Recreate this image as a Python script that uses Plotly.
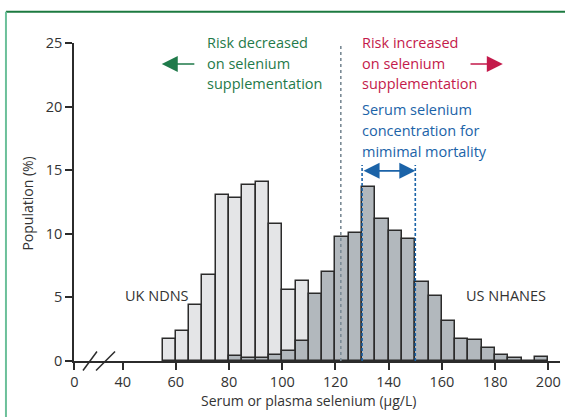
import plotly.graph_objects as go

# ---- data ----
bin_width = 5
uk_bin_starts = [55, 60, 65, 70, 75, 80, 85, 90, 95, 100, 105]
uk_values = [1.75, 2.33, 4.37, 6.78, 13.03, 12.83, 13.82, 14.06, 10.78, 5.57, 6.3]

us_bin_starts = [80, 85, 90, 95, 100, 105, 110, 115, 120, 125, 130, 135, 140, 145,
                 150, 155, 160, 165, 170, 175, 180, 185, 190, 195]
us_values = [0.42, 0.23, 0.25, 0.5, 0.78, 1.6, 5.26, 6.98, 9.76, 10.1, 13.66, 11.18, 10.23, 9.6,
             6.23, 5.1, 3.11, 1.75, 1.64, 1.01, 0.49, 0.26, 0.0, 0.34]

y_ticks = [0, 5, 10, 15, 20, 25]
x_tick_labels = ["0", "40", "60", "80", "100", "120", "140", "160", "180", "200"]
x_tick_values = [21.8, 40, 60, 80, 100, 120, 140, 160, 180, 200]  # "0" sits at the axis break

risk_threshold = 122
minimal_mortality_range = [130, 150]

FONT = "Open Sans"
GREEN = "#1f7a4a"
RED = "#c41a4b"
BLUE = "#1b63a8"
DARK = "#2b2b2b"
TXT = "#333333"
Y_MAX = 25

uk_centers = [s + bin_width / 2 for s in uk_bin_starts]
us_centers = [s + bin_width / 2 for s in us_bin_starts]

fig = go.Figure()
fig.add_trace(go.Bar(x=uk_centers, y=uk_values, width=bin_width,
                     marker=dict(color="#e4e5e7", line=dict(color=DARK, width=1.5)),
                     name="UK NDNS", showlegend=False))
fig.add_trace(go.Bar(x=us_centers, y=us_values, width=bin_width,
                     marker=dict(color="#b2b8bd", line=dict(color=DARK, width=1.5)),
                     name="US NHANES", showlegend=False))

shapes = []
shapes.append(dict(type="line", xref="x", yref="y", x0=risk_threshold, x1=risk_threshold,
                   y0=0, y1=25.2, line=dict(color="#7b8b96", width=1.6, dash="3px,3px")))
for v in minimal_mortality_range:
    shapes.append(dict(type="line", xref="x", yref="y", x0=v, x1=v, y0=0, y1=15.4,
                       line=dict(color=BLUE, width=1.6, dash="3px,2px")))
# axis break marks
for (a, b) in [(0.0185, 0.0473), (0.0453, 0.0844)]:
    shapes.append(dict(type="line", xref="paper", yref="paper", x0=a, x1=b, y0=-0.03, y1=0.03,
                       line=dict(color=DARK, width=1.5)))
# frame lines (top and left)
shapes.append(dict(type="line", xref="paper", yref="paper", x0=-0.14, x1=1.02, y0=1.098, y1=1.098,
                   line=dict(color="#1c7a40", width=2)))
shapes.append(dict(type="line", xref="paper", yref="paper", x0=-0.14, x1=-0.14, y0=1.098, y1=-0.2,
                   line=dict(color="#6cc09a", width=2)))

ann = []
def txt(x, y, s, color, size=14.5):
    ann.append(dict(x=x, y=y / Y_MAX, xref="x", yref="paper", text=s, showarrow=False,
                    xanchor="left", yanchor="middle",
                    font=dict(family=FONT, size=size, color=color)))

for i, s in enumerate(["Risk decreased", "on selenium", "supplementation"]):
    txt(71.1, 25.02 - i * 1.61, s, GREEN)
for i, s in enumerate(["Risk increased", "on selenium", "supplementation"]):
    txt(129.2, 25.02 - i * 1.61, s, RED)
for i, s in enumerate(["Serum selenium", "concentration for", "mimimal mortality"]):
    txt(129.2, 19.76 - i * 1.65, s, BLUE)
txt(40.1, 5.17, "UK NDNS", TXT)
txt(168.3, 5.17, "US NHANES", TXT)

# arrows
ann.append(dict(x=54.7, y=23.35, ax=67.5, ay=23.35, xref="x", yref="y", axref="x", ayref="y",
                text="", showarrow=True, arrowhead=2, arrowsize=2.0, arrowwidth=1.6, arrowcolor=GREEN))
ann.append(dict(x=182.9, y=23.35, ax=170.2, ay=23.35, xref="x", yref="y", axref="x", ayref="y",
                text="", showarrow=True, arrowhead=2, arrowsize=2.0, arrowwidth=1.6, arrowcolor=RED))
ann.append(dict(x=minimal_mortality_range[1], y=14.95, ax=minimal_mortality_range[0], ay=14.95,
                xref="x", yref="y", axref="x", ayref="y", text="", showarrow=True,
                arrowhead=2, startarrowhead=2, arrowside="end+start", arrowsize=2.0,
                startarrowsize=2.0, arrowwidth=1.6, arrowcolor=BLUE))

# axis titles
ann.append(dict(x=-0.0947, y=0.495, xref="paper", yref="paper", text="Population (%)",
                textangle=-90, showarrow=False, xanchor="center", yanchor="middle",
                font=dict(family=FONT, size=14, color=TXT)))
ann.append(dict(x=0.4825, y=-0.124, xref="paper", yref="paper", text="Serum or plasma selenium (µg/L)",
                showarrow=False, xanchor="center", yanchor="middle",
                font=dict(family=FONT, size=14, color=TXT)))

fig.update_layout(
    width=565, height=417,
    margin=dict(l=74, r=5, t=43.3, b=55.5),
    plot_bgcolor="white", paper_bgcolor="white",
    barmode="overlay", bargap=0,
    shapes=shapes, annotations=ann,
    font=dict(family=FONT, size=14, color=TXT),
    xaxis=dict(range=[21.7, 204.4], tickvals=x_tick_values, ticktext=x_tick_labels,
               showline=True, linecolor=DARK, linewidth=1.5, ticks="outside", ticklen=7,
               tickwidth=1.5, tickcolor=DARK, showgrid=False, zeroline=False,
               tickfont=dict(family=FONT, size=14.5, color=TXT)),
    yaxis=dict(range=[0, Y_MAX], tickvals=y_ticks, showline=True, linecolor=DARK, linewidth=1.5,
               ticks="outside", ticklen=7, tickwidth=1.5, tickcolor=DARK, showgrid=False,
               zeroline=False, tickfont=dict(family=FONT, size=14.5, color=TXT)),
)

fig.write_html("out.html")
